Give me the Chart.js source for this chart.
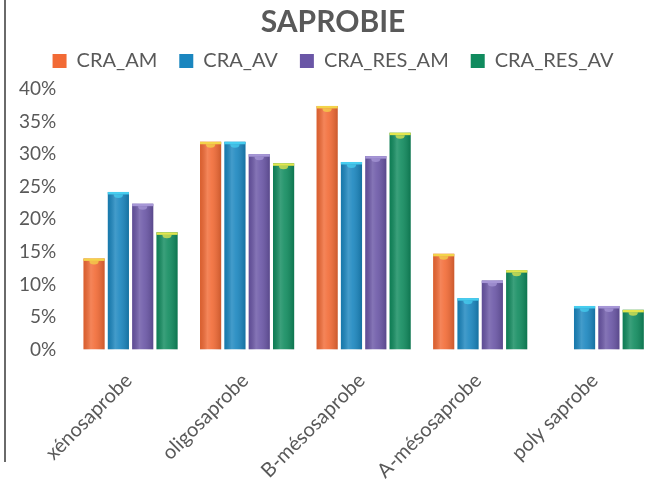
<!DOCTYPE html>
<html>
<head>
<meta charset="utf-8">
<script src="https://cdn.jsdelivr.net/npm/chart.js@4/dist/chart.umd.min.js"></script>
<style>
  html, body { margin: 0; padding: 0; background: #ffffff; }
  #wrap { position: relative; width: 659px; height: 484px; }
  #frame { position: absolute; left: 4px; top: 0; width: 2px; height: 462px; background: #6a6a6a; }
  canvas { position: absolute; left: 0; top: 0; }
</style>
</head>
<body>
<div id="wrap">
  <canvas id="chart" width="659" height="484"></canvas>
  <div id="frame"></div>
</div>
<script>
// Saprobic classes and share of taxa (%) per station
const categories = ['xénosaprobe', 'oligosaprobe', 'B-mésosaprobe', 'A-mésosaprobe', 'poly saprobe'];
const seriesNames = ['CRA_AM', 'CRA_AV', 'CRA_RES_AM', 'CRA_RES_AV'];
const craAM    = [14.0, 31.9, 37.4, 14.7, 0.0];
const craAV    = [24.2, 31.9, 28.8, 7.9, 6.7];
const craResAM = [22.4, 30.0, 29.7, 10.6, 6.7];
const craResAV = [18.0, 28.6, 33.3, 12.2, 6.1];
const yTicks   = [0, 5, 10, 15, 20, 25, 30, 35, 40];

// body colour and cap colour per series
const palette = [
  { body: '#F26A35', cap: '#F3D34A' },
  { body: '#1A86BF', cap: '#46CDEF' },
  { body: '#6A56A6', cap: '#A696D6' },
  { body: '#108B5E', cap: '#E3E64E' }
];

const seriesValues = [craAM, craAV, craResAM, craResAV];

// cylinder-like shading on each bar, drawn over the plain fill
const barShading = {
  id: 'barShading',
  afterDatasetsDraw(chart) {
    const ctx = chart.ctx;
    chart.data.datasets.forEach((ds, di) => {
      const meta = chart.getDatasetMeta(di);
      const col = palette[di];
      meta.data.forEach(bar => {
        const p = bar.getProps(['x', 'y', 'base', 'width'], true);
        const h = p.base - p.y;
        if (h < 1) return;
        const left = p.x - p.width / 2;
        const g = ctx.createLinearGradient(left, 0, left + p.width, 0);
        g.addColorStop(0, 'rgba(0,0,0,0.10)');
        g.addColorStop(0.35, 'rgba(255,255,255,0.18)');
        g.addColorStop(0.55, 'rgba(255,255,255,0.10)');
        g.addColorStop(1, 'rgba(0,0,0,0.16)');
        ctx.save();
        ctx.fillStyle = g;
        ctx.fillRect(left, p.y, p.width, h);
        // top cap
        ctx.fillStyle = col.cap;
        ctx.fillRect(left, p.y, p.width, 2.5);
        ctx.globalAlpha = 0.75;
        ctx.beginPath();
        ctx.ellipse(p.x, p.y + 2.5, p.width * 0.22, 3.5, 0, 0, Math.PI);
        ctx.fill();
        ctx.restore();
      });
    });
  }
};

// extra room between the legend row and the plot
const legendGap = {
  id: 'legendGap',
  beforeUpdate(chart) {
    const legend = chart.legend;
    if (!legend || legend._gapWrapped) return;
    const fit = legend.fit;
    legend.fit = function () {
      fit.call(this);
      this.height += 8;
    };
    legend._gapWrapped = true;
  }
};

new Chart(document.getElementById('chart'), {
  type: 'bar',
  data: {
    labels: categories,
    datasets: seriesNames.map((name, i) => ({
      label: name,
      data: seriesValues[i],
      backgroundColor: palette[i].body,
      borderWidth: 0,
      categoryPercentage: 0.835,
      barPercentage: 0.87
    }))
  },
  plugins: [barShading, legendGap],
  options: {
    responsive: false,
    animation: false,
    layout: { padding: { left: 11, right: 4, top: 2, bottom: -10 } },
    plugins: {
      title: {
        display: true,
        text: 'SAPROBIE',
        color: '#595959',
        font: { family: 'Lato', size: 30, weight: 'bold' },
        padding: { top: 2, bottom: -11 }
      },
      legend: {
        display: true,
        labels: {
          color: '#595959',
          font: { family: 'Lato', size: 20 },
          boxWidth: 14,
          boxHeight: 14,
          padding: 22,
          generateLabels(chart) {
            return seriesNames.map((name, i) => ({
              text: name,
              fillStyle: palette[i].body,
              strokeStyle: palette[i].body,
              lineWidth: 0,
              fontColor: '#595959',
              datasetIndex: i
            }));
          }
        }
      },
      tooltip: { enabled: false }
    },
    scales: {
      x: {
        grid: { display: false },
        border: { display: false },
        ticks: {
          color: '#595959',
          font: { family: 'Lato', size: 20 },
          minRotation: 45,
          maxRotation: 45,
          padding: 11,
          labelOffset: -2
        }
      },
      y: {
        min: 0,
        max: 40,
        grid: { display: false },
        border: { display: false },
        afterBuildTicks(scale) {
          scale.ticks = yTicks.map(v => ({ value: v }));
        },
        ticks: {
          color: '#595959',
          font: { family: 'Lato', size: 19 },
          padding: 8,
          callback: v => v + '%'
        }
      }
    }
  }
});
</script>
</body>
</html>
